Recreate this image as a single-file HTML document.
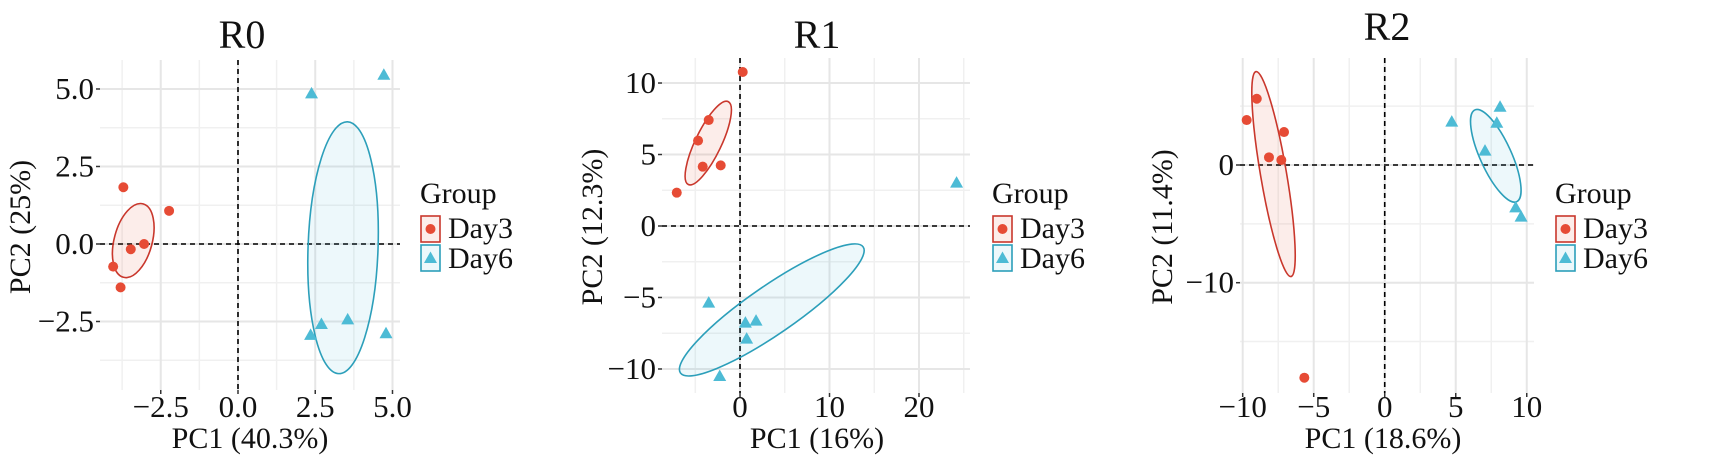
<!DOCTYPE html>
<html><head><meta charset="utf-8">
<style>
html,body{margin:0;padding:0;background:#fff;}
svg{display:block;font-family:"Liberation Serif","DejaVu Serif",serif;}
</style></head>
<body>
<svg id="chart" width="1712" height="469" viewBox="0 0 1712 469"></svg>
<script>
// ---- R0 data ----
const r0Day3X=[-3.71,-2.23,-3.04,-3.47,-4.04,-3.80];
const r0Day3Y=[1.83,1.07,0.0,-0.17,-0.73,-1.40];
const r0Day6X=[2.38,4.72,2.70,3.55,2.35,4.79];
const r0Day6Y=[4.86,5.46,-2.58,-2.43,-2.93,-2.88];
const r0XTicks=[-2.5,0,2.5,5];
const r0XLabels=["\u22122.5","0.0","2.5","5.0"];
const r0YTicks=[5,2.5,0,-2.5];
const r0YLabels=["5.0","2.5","0.0","\u22122.5"];
const r0XMinor=[-3.75,-1.25,1.25,3.75];
const r0YMinor=[3.75,1.25,-1.25,-3.75];
// ellipse: center x, center y (data), semi-axes in px, rotation deg
const r0Ell3=[-3.39,0.11,19,38,15];
const r0Ell6=[3.40,-0.12,35,126,2];
// ---- R1 data ----
const r1Day3X=[0.30,-3.5,-4.69,-4.17,-2.16,-7.07];
const r1Day3Y=[10.77,7.41,5.97,4.15,4.24,2.33];
const r1Day6X=[24.2,-3.5,0.6,1.79,0.74,-2.27];
const r1Day6Y=[3.03,-5.36,-6.76,-6.62,-7.88,-10.49];
const r1XTicks=[0,10,20];
const r1XLabels=["0","10","20"];
const r1YTicks=[10,5,0,-5,-10];
const r1YLabels=["10","5","0","\u22125","\u221210"];
const r1XMinor=[-5,5,15,25];
const r1YMinor=[7.5,2.5,-2.5,-7.5];
const r1Ell3=[-3.55,5.8,13,46,25.7];
const r1Ell6=[3.55,-5.87,111,24,-34.6];
// ---- R2 data ----
const r2Day3X=[-9.01,-9.72,-7.09,-8.15,-7.28,-5.66];
const r2Day3Y=[5.63,3.82,2.80,0.65,0.42,-18.07];
const r2Day6X=[4.72,8.12,7.89,7.06,9.22,9.6];
const r2Day6Y=[3.68,4.95,3.59,1.22,-3.6,-4.39];
const r2XTicks=[-10,-5,0,5,10];
const r2XLabels=["\u221210","\u22125","0","5","10"];
const r2YTicks=[0,-10];
const r2YLabels=["0","\u221210"];
const r2XMinor=[-7.5,-2.5,2.5,7.5];
const r2YMinor=[5,-5,-15];
const r2Ell3=[-7.83,-0.77,13,104,-9.7];
const r2Ell6=[7.82,0.78,15.6,50.4,-24.5];

const NS="http://www.w3.org/2000/svg";
const svg=document.getElementById('chart');
function mk(tag,attrs,parent){const e=document.createElementNS(NS,tag);for(const k in attrs)e.setAttribute(k,attrs[k]);(parent||svg).appendChild(e);return e;}

const RED="#e64b35",BLUE="#4dbbd5",REDS="#c9372c",BLUES="#2c9fba";

function panel(p){
  const g=mk('g',{});
  
  
  const sx=v=>p.x0+(v-p.xmin)/(p.xmax-p.xmin)*(p.x1-p.x0);
  const sy=v=>p.y1-(v-p.ymin)/(p.ymax-p.ymin)*(p.y1-p.y0);
  // grid
  p.xMinor.forEach(v=>{const l=mk('line',{x1:sx(v),x2:sx(v),y1:p.y0,y2:p.y1,stroke:'#f0f0f0','stroke-width':1.5},g);});
  p.yMinor.forEach(v=>{const l=mk('line',{x1:p.x0,x2:p.x1,y1:sy(v),y2:sy(v),stroke:'#f0f0f0','stroke-width':1.5},g);});
  p.xTicks.forEach(v=>{const l=mk('line',{x1:sx(v),x2:sx(v),y1:p.y0,y2:p.y1,stroke:'#e6e6e6','stroke-width':2},g);});
  p.yTicks.forEach(v=>{const l=mk('line',{x1:p.x0,x2:p.x1,y1:sy(v),y2:sy(v),stroke:'#e6e6e6','stroke-width':2},g);});
  // zero lines
  let z=mk('line',{x1:p.x0,x2:p.x1,y1:sy(0),y2:sy(0),stroke:'#000','stroke-width':1.6,'stroke-dasharray':'5,4'},g);
  
  z=mk('line',{x1:sx(0),x2:sx(0),y1:p.y0,y2:p.y1,stroke:'#000','stroke-width':1.6,'stroke-dasharray':'5,4'},g);
  
  // ellipses
  [[p.e3,RED,REDS,'day3-ellipse'],[p.e6,BLUE,BLUES,'day6-ellipse']].forEach(([e,f,s,n])=>{
    const el=mk('ellipse',{cx:0,cy:0,rx:e[2],ry:e[3],fill:f,'fill-opacity':0.1,stroke:s,'stroke-width':1.6,transform:`translate(${sx(e[0])},${sy(e[1])}) rotate(${e[4]})`},g);
    
  });
  // points
  p.d3x.forEach((v,i)=>{const c=mk('circle',{cx:sx(v),cy:sy(p.d3y[i]),r:5,fill:RED},g);});
  p.d6x.forEach((v,i)=>{const x=sx(v),y=sy(p.d6y[i]);const t=mk('polygon',{points:`${x},${y-6.5} ${x-6.5},${y+5} ${x+6.5},${y+5}`,fill:BLUE},g);});
  // ticks
  p.xTicks.forEach((v,i)=>{
    const tk=mk('line',{x1:sx(v),x2:sx(v),y1:p.y1,y2:p.y1+4,stroke:'#333','stroke-width':1.5},g);
    const t=mk('text',{x:sx(v),y:417,'font-size':31,'text-anchor':'middle',fill:'#111'},g);t.textContent=p.xLabels[i];
    
  });
  p.yTicks.forEach((v,i)=>{
    const tk=mk('line',{x1:p.x0-4,x2:p.x0,y1:sy(v),y2:sy(v),stroke:'#333','stroke-width':1.5},g);
    const t=mk('text',{x:p.x0-6,y:sy(v)+10,'font-size':31,'text-anchor':'end',fill:'#111'},g);t.textContent=p.yLabels[i];
    
  });
  // titles
  let t=mk('text',{x:p.tx,y:p.ty,'font-size':40,'text-anchor':'middle',fill:'#111'},g);t.textContent=p.name.toUpperCase();
  
  t=mk('text',{x:p.xtx,y:448,'font-size':30,'text-anchor':'middle',fill:'#111'},g);t.textContent=p.xTitle;
  
  t=mk('text',{x:0,y:0,'font-size':30,'text-anchor':'middle',fill:'#111',transform:`translate(${p.ytx},${p.yty}) rotate(-90)`},g);t.textContent=p.yTitle;
  
  // legend
  const lg=mk('g',{},g);
  t=mk('text',{x:p.lx,y:203,'font-size':30,fill:'#111'},lg);t.textContent='Group';
  
  const e1=mk('g',{},lg);
  mk('rect',{x:p.lx+1,y:216,width:19,height:26,fill:RED,'fill-opacity':0.1,stroke:REDS,'stroke-width':1.6},e1);
  mk('circle',{cx:p.lx+10.5,cy:229,r:5,fill:RED},e1);
  t=mk('text',{x:p.lx+28,y:238,'font-size':30,fill:'#111'},e1);t.textContent='Day3';
  const e2=mk('g',{},lg);
  mk('rect',{x:p.lx+1,y:245,width:19,height:26,fill:BLUE,'fill-opacity':0.1,stroke:BLUES,'stroke-width':1.6},e2);
  const cx=p.lx+10.5,cy=258;
  mk('polygon',{points:`${cx},${cy-6.5} ${cx-6.5},${cy+5} ${cx+6.5},${cy+5}`,fill:BLUE},e2);
  t=mk('text',{x:p.lx+28,y:268,'font-size':30,fill:'#111'},e2);t.textContent='Day6';
}

panel({name:'r0',x0:100,x1:400,y0:60,y1:390,xmin:-4.466,xmax:5.243,ymin:-4.71,ymax:5.935,
  d3x:r0Day3X,d3y:r0Day3Y,d6x:r0Day6X,d6y:r0Day6Y,xTicks:r0XTicks,xLabels:r0XLabels,yTicks:r0YTicks,yLabels:r0YLabels,
  xMinor:r0XMinor,yMinor:r0YMinor,e3:r0Ell3,e6:r0Ell6,tx:242,ty:48,xtx:250,ytx:30,yty:227,
  xTitle:'PC1 (40.3%)',yTitle:'PC2 (25%)',lx:420});
panel({name:'r1',x0:662,x1:970,y0:58,y1:393,xmin:-8.72,xmax:25.7,ymin:-11.68,ymax:11.75,
  d3x:r1Day3X,d3y:r1Day3Y,d6x:r1Day6X,d6y:r1Day6Y,xTicks:r1XTicks,xLabels:r1XLabels,yTicks:r1YTicks,yLabels:r1YLabels,
  xMinor:r1XMinor,yMinor:r1YMinor,e3:r1Ell3,e6:r1Ell6,tx:817,ty:48,xtx:817,ytx:602,yty:227,
  xTitle:'PC1 (16%)',yTitle:'PC2 (12.3%)',lx:992});
panel({name:'r2',x0:1240,x1:1534,y0:58,y1:393,xmin:-10.19,xmax:10.51,ymin:-19.37,ymax:9.09,
  d3x:r2Day3X,d3y:r2Day3Y,d6x:r2Day6X,d6y:r2Day6Y,xTicks:r2XTicks,xLabels:r2XLabels,yTicks:r2YTicks,yLabels:r2YLabels,
  xMinor:r2XMinor,yMinor:r2YMinor,e3:r2Ell3,e6:r2Ell6,tx:1387,ty:40,xtx:1383,ytx:1172,yty:227,
  xTitle:'PC1 (18.6%)',yTitle:'PC2 (11.4%)',lx:1555});
</script>
</body></html>
